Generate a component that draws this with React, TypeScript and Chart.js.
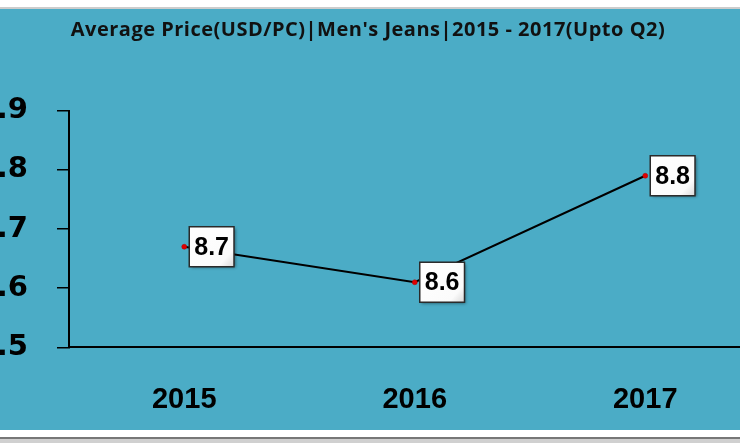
import React, { useEffect, useRef } from "react";
import { Chart, registerables } from "chart.js";

Chart.register(...registerables);

const titleText = "Average Price(USD/PC)|Men's Jeans|2015 - 2017(Upto Q2)";
const categories = ["2015", "2016", "2017"];
const avgPrice = [8.67, 8.61, 8.79];
const yMin = 8.5;
const yMax = 8.9;
const yStep = 0.1;

const TEAL = "#4BACC6";

const labelPlugin = {
  id: "boxLabels",
  afterDatasetsDraw(chart: any) {
    const ctx = chart.ctx;
    const meta = chart.getDatasetMeta(0);
    const ds = chart.data.datasets[0];
    ctx.save();
    ctx.font = "bold 25px 'Liberation Sans', Arial, sans-serif";
    meta.data.forEach((pt: any, i: number) => {
      const txt = Number(ds.data[i]).toFixed(1);
      const tw = ctx.measureText(txt).width;
      const w = tw + 10;
      const h = 40;
      const x = pt.x + 5;
      const y = pt.y - h / 2;
      ctx.save();
      ctx.shadowColor = "rgba(0,0,0,0.45)";
      ctx.shadowBlur = 3;
      ctx.shadowOffsetX = 1.5;
      ctx.shadowOffsetY = 1.5;
      ctx.fillStyle = "#ffffff";
      ctx.fillRect(x, y, w, h);
      ctx.restore();
      const g = ctx.createLinearGradient(x, y, x + w, y + h);
      g.addColorStop(0, "#ffffff");
      g.addColorStop(0.8, "#fbfbfb");
      g.addColorStop(1, "#d8d8d8");
      ctx.fillStyle = g;
      ctx.fillRect(x, y, w, h);
      ctx.lineWidth = 1.5;
      ctx.strokeStyle = "#2a2a2a";
      ctx.strokeRect(x, y, w, h);
      ctx.fillStyle = "#000";
      ctx.textAlign = "center";
      ctx.textBaseline = "middle";
      ctx.fillText(txt, x + w / 2, pt.y + 1);
    });
    ctx.restore();
  },
  afterDraw(chart: any) {
    const ctx = chart.ctx;
    ctx.save();
    ctx.font = "bold 20px 'Open Sans', sans-serif";
    (ctx as any).letterSpacing = "0.5px";
    ctx.fillStyle = "#111";
    ctx.textAlign = "center";
    ctx.textBaseline = "alphabetic";
    ctx.fillText(titleText, 398, 26.5);
    ctx.restore();
  },
};

export default function App() {
  const ref = useRef<HTMLCanvasElement | null>(null);
  useEffect(() => {
    if (!ref.current) return;
    const chart = new Chart(ref.current, {
      type: "line",
      data: {
        labels: categories,
        datasets: [
          {
            data: avgPrice,
            borderColor: "#000",
            borderWidth: 2,
            pointBackgroundColor: "#e00000",
            pointBorderColor: "#b00000",
            pointBorderWidth: 0.5,
            pointRadius: 2.5,
            tension: 0,
          },
        ],
      },
      options: {
        animation: false,
        responsive: false,
        maintainAspectRatio: false,
        layout: { padding: { top: 101.7, left: 0, right: 4.5, bottom: 0 } },
        plugins: {
          legend: { display: false },
          title: { display: false },
          tooltip: { enabled: false },
        },
        scales: {
          x: {
            offset: true,
            grid: { display: false, drawTicks: false },
            border: { display: true, color: "#000", width: 2 },
            ticks: {
              color: "#000",
              padding: 35,
              maxRotation: 0,
              font: { family: "'Liberation Sans', Arial, sans-serif", size: 29, weight: "bold" },
            },
            afterFit: (s: any) => {
              s.height = 82.7;
            },
          },
          y: {
            min: yMin,
            max: yMax,
            grid: {
              drawOnChartArea: false,
              drawTicks: true,
              tickLength: 12,
              color: "#000",
              lineWidth: 1.5,
            },
            border: { display: true, color: "#000", width: 2 },
            ticks: {
              stepSize: yStep,
              color: "#000",
              padding: 29,
              callback: (v: any) => Number(v).toFixed(1),
              font: { family: "'DejaVu Sans', Verdana, sans-serif", size: 29, weight: "bold" },
            },
            afterFit: (s: any) => {
              s.width = 99;
            },
          },
        },
      },
      plugins: [labelPlugin],
    });
    return () => chart.destroy();
  }, []);

  return (
    <div
      style={{
        position: "fixed",
        left: 0,
        top: 0,
        width: 740,
        height: 443,
        overflow: "hidden",
        background: "#ffffff",
      }}
    >
      <div style={{ position: "absolute", left: 0, top: 7, width: 740, height: 2, background: "#cccccc" }} />
      <div
        style={{
          position: "absolute",
          left: 0,
          top: 9,
          width: 740,
          height: 421,
          background: TEAL,
          overflow: "hidden",
        }}
      >
        <canvas ref={ref} width={795} height={421} style={{ position: "absolute", left: -30, top: 0, width: 795, height: 421 }} />
      </div>
      <div style={{ position: "absolute", left: 0, top: 437, width: 740, height: 2, background: "#777777" }} />
      <div style={{ position: "absolute", left: 0, top: 439, width: 740, height: 4, background: "#d0d0d0" }} />
    </div>
  );
}
